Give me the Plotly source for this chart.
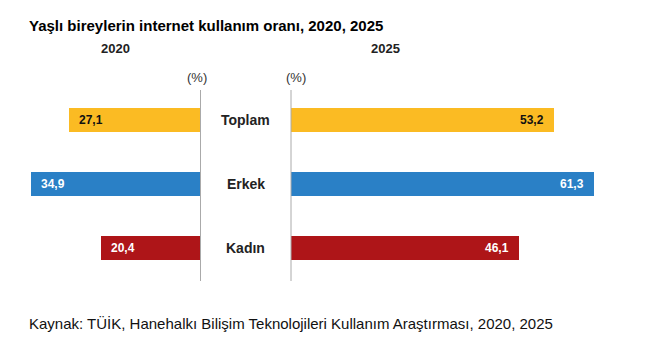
import plotly.graph_objects as go

categories = ["Toplam", "Erkek", "Kadın"]
values_2020 = [27.1, 34.9, 20.4]
values_2025 = [53.2, 61.3, 46.1]
bar_colors = ["#FBBB23", "#2A80C6", "#AE1518"]
text_colors = ["#111111", "#FFFFFF", "#FFFFFF"]
year_labels = ["2020", "2025"]

W, H = 666, 363
FONT = "Liberation Sans, Arial, sans-serif"

def fmt(v):
    return f"{v:.1f}".replace(".", ",")

def px_x(p):
    return p / W

def px_y(p):
    return 1 - p / H

fig = go.Figure()

fig.add_trace(go.Bar(
    y=categories, x=values_2020, orientation="h",
    marker=dict(color=bar_colors, line=dict(width=0)),
    width=0.39, xaxis="x", yaxis="y", hoverinfo="skip", showlegend=False,
))
fig.add_trace(go.Bar(
    y=categories, x=values_2025, orientation="h",
    marker=dict(color=bar_colors, line=dict(width=0)),
    width=0.39, xaxis="x2", yaxis="y", hoverinfo="skip", showlegend=False,
))

annotations = []
for c, v, tc in zip(categories, values_2020, text_colors):
    annotations.append(dict(x=v, y=c, xref="x", yref="y", text=fmt(v),
                            showarrow=False, xanchor="left", xshift=8,
                            font=dict(family=FONT, size=12, color=tc, weight="bold")))
for c, v, tc in zip(categories, values_2025, text_colors):
    annotations.append(dict(x=v, y=c, xref="x2", yref="y", text=fmt(v),
                            showarrow=False, xanchor="right", xshift=-8,
                            font=dict(family=FONT, size=12, color=tc, weight="bold")))
for c in categories:
    annotations.append(dict(x=px_x(245.5), y=c, xref="paper", yref="y", text=c,
                            showarrow=False, xanchor="center",
                            font=dict(family=FONT, size=14, color="#222222", weight="bold")))

# title, headers, footer
annotations.append(dict(x=px_x(27), y=px_y(25), xref="paper", yref="paper",
                        text="Yaşlı bireylerin internet kullanım oranı, 2020, 2025",
                        showarrow=False, xanchor="left", yanchor="middle",
                        font=dict(family=FONT, size=15, color="#000000", weight="bold")))
for lbl, cx in zip(year_labels, [116, 385]):
    annotations.append(dict(x=px_x(cx), y=px_y(48), xref="paper", yref="paper",
                            text=lbl, showarrow=False, xanchor="center", yanchor="middle",
                            font=dict(family=FONT, size=13, color="#222222", weight="bold")))
for cx in [197, 296]:
    annotations.append(dict(x=px_x(cx), y=px_y(78), xref="paper", yref="paper",
                            text="(%)", showarrow=False, xanchor="center", yanchor="middle",
                            font=dict(family=FONT, size=13, color="#333333")))
annotations.append(dict(x=px_x(27), y=px_y(323), xref="paper", yref="paper",
                        text="Kaynak: TÜİK, Hanehalkı Bilişim Teknolojileri Kullanım Araştırması, 2020, 2025",
                        showarrow=False, xanchor="left", yanchor="middle",
                        font=dict(family=FONT, size=15, color="#111111")))

shapes = []
for lx in [200.5, 291]:
    shapes.append(dict(type="line", xref="paper", yref="paper",
                       x0=px_x(lx), x1=px_x(lx), y0=px_y(90), y1=px_y(281),
                       line=dict(color="#AAAAAA", width=1)))

left_scale = 4.87
right_scale = 4.95
fig.update_layout(
    width=W, height=H,
    margin=dict(l=0, r=0, t=0, b=0),
    paper_bgcolor="white", plot_bgcolor="rgba(0,0,0,0)",
    xaxis=dict(domain=[0, px_x(200.5)], range=[200.5 / left_scale, 0],
               visible=False, fixedrange=True),
    xaxis2=dict(domain=[px_x(291), 1], range=[0, (W - 291) / right_scale],
                visible=False, fixedrange=True),
    yaxis=dict(domain=[0, 1], range=[(H - 120) / 64, -120 / 64],
               visible=False, type="category", categoryorder="array",
               categoryarray=categories, fixedrange=True),
    annotations=annotations, shapes=shapes,
    bargap=0,
)

fig.write_html("out.html", config={"displayModeBar": False},
               post_script="document.body.style.margin='0';")
